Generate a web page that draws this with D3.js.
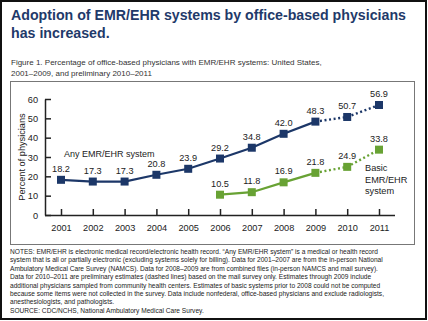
<!DOCTYPE html>
<html lang="en">
<head>
<meta charset="UTF-8">
<title>EMR/EHR adoption</title>
<script src="https://cdn.jsdelivr.net/npm/d3@7/dist/d3.min.js"></script>
<style>
  body { margin: 0; background: #fff; }
  text { font-family: "Liberation Sans", Arial, sans-serif; }
</style>
</head>
<body>
<div id="container"></div>
<script>
var width = 428, height = 321;

// data
var years = [2001, 2002, 2003, 2004, 2005, 2006, 2007, 2008, 2009, 2010, 2011];
var anyValues = [18.2, 17.3, 17.3, 20.8, 23.9, 29.2, 34.8, 42.0, 48.3, 50.7, 56.9];
var basicYears = [2006, 2007, 2008, 2009, 2010, 2011];
var basicValues = [10.5, 11.8, 16.9, 21.8, 24.9, 33.8];
var lastFinalYear = 2009; // 2010-2011 preliminary, drawn dotted
var yTicks = [0, 10, 20, 30, 40, 50, 60];

var titleLines = ["Adoption of EMR/EHR systems by office-based physicians", "has increased."];
var captionLines = ["Figure 1. Percentage of office-based physicians with EMR/EHR systems: United States,",
                    "2001\u20132009, and preliminary 2010\u20132011"];
var noteLines = [
  "NOTES: EMR/EHR is electronic medical record/electronic health record. \u201cAny EMR/EHR system\u201d is a medical or health record",
  "system that is all or partially electronic (excluding systems solely for billing). Data for 2001\u20132007 are from the in-person National",
  "Ambulatory Medical Care Survey (NAMCS). Data for 2008\u20132009 are from combined files (in-person NAMCS and mail survey).",
  "Data for 2010\u20132011 are preliminary estimates (dashed lines) based on the mail survey only. Estimates through 2009 include",
  "additional physicians sampled from community health centers. Estimates of basic systems prior to 2008 could not be computed",
  "because some items were not collected in the survey. Data include nonfederal, office-based physicians and exclude radiologists,",
  "anesthesiologists, and pathologists.",
  "SOURCE: CDC/NCHS, National Ambulatory Medical Care Survey."
];

var navy = "#1c3768", green = "#68a234";

var svg = d3.select("#container").append("svg")
    .attr("width", width).attr("height", height);

// outer frame
svg.append("rect").attr("x", 1).attr("y", 1).attr("width", 425).attr("height", 318)
    .attr("fill", "#fff").attr("stroke", "#111").attr("stroke-width", 2);

svg.selectAll(".title").data(titleLines).enter().append("text")
    .attr("x", 11).attr("y", (d, i) => 20 + i * 18)
    .attr("font-size", 14.2).attr("font-weight", "bold").attr("fill", "#1f3a6a")
    .text(d => d);

svg.selectAll(".caption").data(captionLines).enter().append("text")
    .attr("x", 11).attr("y", (d, i) => 65 + i * 11)
    .attr("font-size", 8).attr("fill", "#333")
    .text(d => d);

// chart box
svg.append("rect").attr("x", 10.5).attr("y", 81.5).attr("width", 404).attr("height", 163)
    .attr("fill", "none").attr("stroke", "#777").attr("stroke-width", 1);

var x = d3.scaleLinear().domain([2001, 2011]).range([61, 379]);
var y = d3.scaleLinear().domain([0, 60]).range([215, 99]);

var g = svg.append("g");

// axes with inward ticks
var yAxis = g.append("g").attr("transform", "translate(45,0)")
    .call(d3.axisRight(y).tickValues(yTicks).tickSize(6).tickSizeOuter(0));
yAxis.selectAll("text").attr("x", -7).attr("text-anchor", "end");

var xAxis = g.append("g").attr("transform", "translate(0," + y(0) + ")")
    .call(d3.axisTop(x).tickValues(years).tickFormat(d3.format("d")).tickSize(6).tickSizeOuter(0));
xAxis.selectAll("text").attr("y", 16);
xAxis.select(".domain").attr("d", "M45,0.5H395");

[yAxis, xAxis].forEach(a => {
  a.select(".domain").attr("stroke", "#222").attr("stroke-width", 1.5);
  a.selectAll(".tick line").attr("stroke", "#222").attr("stroke-width", 1.5);
  a.selectAll("text").attr("font-size", 9.2).attr("fill", "#222")
    .attr("font-family", "Liberation Sans, Arial, sans-serif");
});
yAxis.selectAll("text").attr("dy", "0.35em");

g.append("text").attr("transform", "translate(25," + y(30) + ") rotate(-90)")
    .attr("text-anchor", "middle").attr("font-size", 9.2).attr("fill", "#222")
    .text("Percent of physicians");

function drawSeries(xs, vs, color) {
  var pts = xs.map((d, i) => ({year: d, value: vs[i]}));
  var line = d3.line().x(d => x(d.year)).y(d => y(d.value));
  var solid = pts.filter(d => d.year <= lastFinalYear);
  var dotted = pts.filter(d => d.year >= lastFinalYear);
  g.append("path").datum(solid).attr("d", line)
      .attr("fill", "none").attr("stroke", color).attr("stroke-width", 2.2);
  g.append("path").datum(dotted).attr("d", line)
      .attr("fill", "none").attr("stroke", color).attr("stroke-width", 2.4)
      .attr("stroke-dasharray", "2,2.6");
  g.selectAll(null).data(pts).enter().append("rect")
      .attr("x", d => x(d.year) - 4).attr("y", d => y(d.value) - 4)
      .attr("width", 8).attr("height", 8).attr("fill", color);
  g.selectAll(null).data(pts).enter().append("text")
      .attr("x", d => x(d.year)).attr("y", d => y(d.value) - 8)
      .attr("text-anchor", "middle").attr("font-size", 9.2).attr("fill", "#222")
      .text(d => d.value.toFixed(1));
}

drawSeries(years, anyValues, navy);
drawSeries(basicYears, basicValues, green);

g.append("text").attr("x", 64).attr("y", 157).attr("font-size", 9).attr("fill", "#222")
    .text("Any EMR/EHR system");
g.selectAll(".basic-label").data(["Basic", "EMR/EHR", "system"]).enter().append("text")
    .attr("x", 365).attr("y", (d, i) => 171 + i * 11.5).attr("font-size", 9.2).attr("fill", "#222")
    .text(d => d);

svg.selectAll(".notes").data(noteLines).enter().append("text")
    .attr("x", 10).attr("y", (d, i) => 254 + i * 8.4)
    .attr("font-size", 6.6).attr("fill", "#222")
    .text(d => d);
</script>
</body>
</html>
